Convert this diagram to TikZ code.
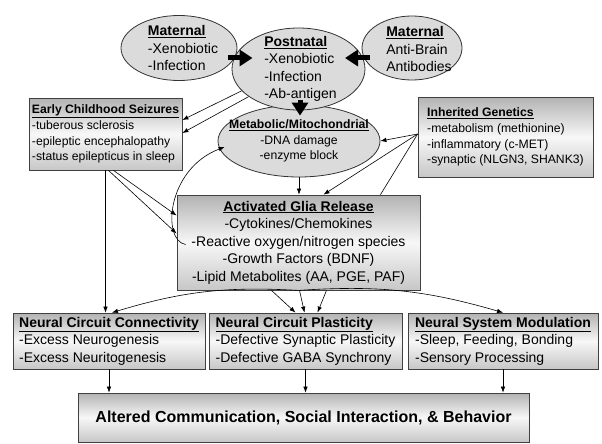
\documentclass[tikz,border=0pt]{standalone}
\usepackage{fontspec}
\setmainfont{Liberation Sans}
\usetikzlibrary{shapes.geometric,arrows.meta,calc}

\tikzset{
  oval/.style={ellipse, draw=black!80, fill=black!14, line width=0.8pt, inner sep=0pt},
  gbox/.style={rectangle, draw=black!75, line width=0.8pt, top color=black!30,
    bottom color=black!22, middle color=black!3, inner sep=2pt, align=left},
  smalltxt/.style={font=\fontsize{12.2}{15.7}\selectfont},
  arr/.style={-{Latex[length=6pt,width=4.5pt]}, line width=0.6pt},
  fat/.style={-{Triangle[length=13pt,width=16pt]}, line width=5pt},
}
\newcommand{\hd}[1]{\underline{\textbf{#1}}}

\begin{document}
\begin{tikzpicture}[x=1pt,y=-1pt,font=\fontsize{14}{17.5}\selectfont]
\useasboundingbox (0,0) rectangle (602,444);

% top ellipses
\node[oval, minimum width=116pt, minimum height=65pt] (matL) at (179,48) {};
\node[oval, minimum width=100pt, minimum height=64pt] (matR) at (412,48) {};
\node[oval, minimum width=162pt, minimum height=72pt] (metab) at (299,141) {};
\node[oval, minimum width=133pt, minimum height=82pt] (postnatal) at (298.5,69) {};

\node[align=left] (matLtxt) at ($(matL)+(4,0)$) {\hd{Maternal}\\-Xenobiotic\\-Infection};
\node[align=left] (matRtxt) at ($(matR)+(7,1)$) {\hd{Maternal}\\Anti-Brain\\Antibodies};
\node[align=left] (postnataltxt) at ($(postnatal)+(2,0)$) {\hd{Postnatal}\\-Xenobiotic\\-Infection\\-Ab-antigen};
\node[align=center, smalltxt] (metabtxt) at (metab) {\hd{Metabolic/Mitochondrial}\\-DNA damage\\-enzyme block};

% boxes
\node[gbox, smalltxt, minimum width=153pt, minimum height=72pt] (seizures) at (105.5,134)
  {\hd{Early Childhood Seizures}\\-tuberous sclerosis\\-epileptic encephalopathy\\-status epilepticus in sleep};
\node[gbox, smalltxt, minimum width=175pt, minimum height=80pt] (genetics) at (505.5,137)
  {\hd{Inherited Genetics}\\-metabolism (methionine)\\-inflammatory (c-MET)\\-synaptic (NLGN3, SHANK3)};
\node[gbox, align=center, minimum width=243pt, minimum height=95pt] (glia) at (298.5,242.5)
  {\hd{Activated Glia Release}\\-Cytokines/Chemokines\\-Reactive oxygen/nitrogen species\\-Growth Factors (BDNF)\\-Lipid Metabolites (AA, PGE, PAF)};
\node[gbox, minimum width=192pt, minimum height=56pt] (connect) at (109,341)
  {\hd{Neural Circuit Connectivity}\\-Excess Neurogenesis\\-Excess Neuritogenesis};
\node[gbox, minimum width=193pt, minimum height=56pt] (plast) at (305.5,341)
  {\hd{Neural Circuit Plasticity}\\-Defective Synaptic Plasticity\\-Defective GABA Synchrony};
\node[gbox, minimum width=190pt, minimum height=56pt] (modul) at (503,341)
  {\hd{Neural System Modulation}\\-Sleep, Feeding, Bonding\\-Sensory Processing};
\node[gbox, align=center, minimum width=451pt, minimum height=49pt, font=\fontsize{16}{19}\selectfont\bfseries] (behavior) at (303.5,417.5)
  {Altered Communication, Social Interaction, \& Behavior};

% thick arrows
\draw[fat] ($(matL)+(49,10)$) -- ($(postnatal)+(-46,-11)$);
\draw[fat] ($(matR)+(-42,10)$) -- ($(postnatal)+(46.5,-11)$);
\draw[fat] ($(postnatal.south)+(1.5,-10)$) -- ($(metab.north)+(1,11)$);

% thin arrows
\draw[arr] (postnatal.201) -- ($(seizures.east)+(0,-14)$);
\draw[arr] (postnatal.209) -- ($(seizures.east)+(0,-1)$);
\draw[arr] (metab.south) -- (metab.south |- glia.north);

\coordinate (gen) at ($(genetics.west)+(0,-3)$);
\draw[arr] (gen) -- (metab.east);
\draw[arr] (gen) -- ($(glia.north)+(25,0)$);
\draw[line width=0.6pt] (gen) -- ($(glia.north)+(82,0)$);

\draw[arr] (seizures.south) -- (seizures.south |- connect.north);
\draw[arr] ($(seizures.south)+(3,0)$) -- ($(glia.west)+(0,-9)$);
\draw[arr] ($(seizures.south)+(8,0)$) -- ($(glia.west)+(0,-27)$);

\draw[arr] ($(glia.west)+(9,2)$) .. controls +(-24,-4) and +(-58,22) .. ($(metab.west)+(7,6)$);

\draw[arr] (glia.south) to[bend right=10] ($(connect.north)+(3,0)$);
\draw[arr] (glia.south) to[bend left=10] (modul.north);
\foreach \s/\t in {-27/-10, 1/-1, 28/12}
  \draw[arr] ($(glia.south)+(\s,0)$) -- ($(plast.north)+(\t,0)$);

\foreach \n in {connect,plast,modul}
  \draw[arr] (\n.south) -- (\n.south |- behavior.north);
\end{tikzpicture}
\end{document}
